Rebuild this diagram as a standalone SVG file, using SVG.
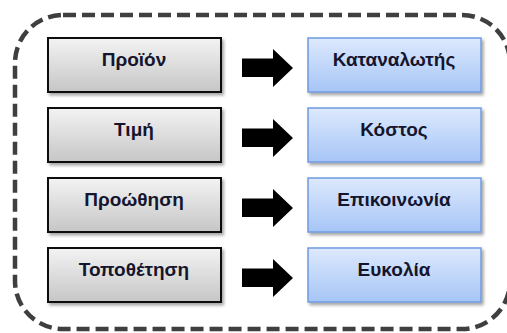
<svg xmlns="http://www.w3.org/2000/svg" width="507" height="333" viewBox="0 0 507 333">
  <defs>
    <linearGradient id="gGray" x1="0" y1="0" x2="0" y2="1">
      <stop offset="0" stop-color="#f3f3f3"/>
      <stop offset="1" stop-color="#c6c6c6"/>
    </linearGradient>
    <linearGradient id="gBlue" x1="0" y1="0" x2="0" y2="1">
      <stop offset="0" stop-color="#dde9fd"/>
      <stop offset="1" stop-color="#a6c5f6"/>
    </linearGradient>
    <filter id="sh" x="-10%" y="-10%" width="130%" height="140%">
      <feDropShadow dx="2" dy="2.5" stdDeviation="1.5" flood-color="#000" flood-opacity="0.35"/>
    </filter>
  </defs>
  <style>
    .frame { fill: none; stroke: #3f3f3f; stroke-width: 4.5; stroke-dasharray: 13 6; }
    .gray { fill: url(#gGray); stroke: #111; stroke-width: 2; filter: url(#sh); }
    .blue { fill: url(#gBlue); stroke: #6f9be0; stroke-width: 1.5; filter: url(#sh); }
    .lbl { font-family: "Liberation Sans", Arial, sans-serif; font-weight: bold; font-size: 19px; fill: #15152e; text-anchor: middle; }
    .arrow { fill: #000; }
  </style>
  <rect class="frame" x="15" y="15" width="495" height="314" rx="48" ry="48"/>

  <g id="left-1"><rect class="gray" x="48" y="38" width="173" height="54"/><text class="lbl" x="134" y="66">Προϊόν</text></g>
  <g id="left-2"><rect class="gray" x="48" y="108" width="173" height="54"/><text class="lbl" x="134" y="136">Τιμή</text></g>
  <g id="left-3"><rect class="gray" x="48" y="178" width="173" height="54"/><text class="lbl" x="134" y="206">Προώθηση</text></g>
  <g id="left-4"><rect class="gray" x="48" y="248" width="173" height="54"/><text class="lbl" x="134" y="276">Τοποθέτηση</text></g>

  <g id="right-1"><rect class="blue" x="308" y="38" width="173" height="54"/><text class="lbl" x="394" y="66">Καταναλωτής</text></g>
  <g id="right-2"><rect class="blue" x="308" y="108" width="173" height="54"/><text class="lbl" x="394" y="136">Κόστος</text></g>
  <g id="right-3"><rect class="blue" x="308" y="178" width="173" height="54"/><text class="lbl" x="394" y="206">Επικοινωνία</text></g>
  <g id="right-4"><rect class="blue" x="308" y="248" width="173" height="54"/><text class="lbl" x="394" y="276">Ευκολία</text></g>

  <g id="connectors">
    <polygon class="arrow" points="242,58.5 273,58.5 273,49 293,68 273,87 273,77 242,77"/>
    <polygon class="arrow" points="242,128.5 273,128.5 273,119 293,138 273,157 273,147 242,147"/>
    <polygon class="arrow" points="242,198.5 273,198.5 273,189 293,208 273,227 273,217 242,217"/>
    <polygon class="arrow" points="242,268.5 273,268.5 273,259 293,278 273,297 273,287 242,287"/>
  </g>
</svg>
